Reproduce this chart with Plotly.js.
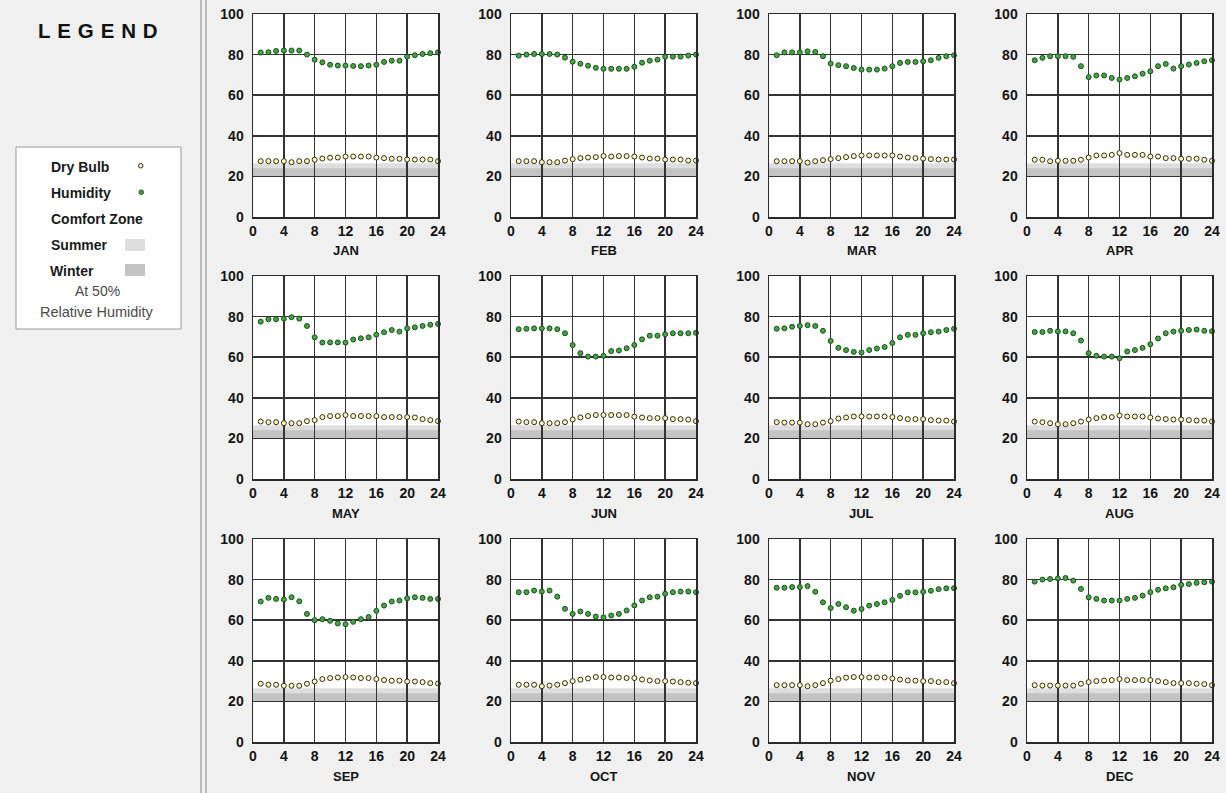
<!DOCTYPE html>
<html><head><meta charset="utf-8">
<script src="https://cdn.plot.ly/plotly-3.0.1.min.js"></script>
<style>html,body{margin:0;padding:0;background:#f0f0f0;} #chart{width:1226px;height:793px;}</style>
</head><body><div id="chart"></div>
<script>
const months = ['JAN','FEB','MAR','APR','MAY','JUN','JUL','AUG','SEP','OCT','NOV','DEC'];
const hours = [1,2,3,4,5,6,7,8,9,10,11,12,13,14,15,16,17,18,19,20,21,22,23,24];
const xTicks = [0,4,8,12,16,20,24];
const yTicks = [0,20,40,60,80,100];
const summerZone = [23, 26.5];
const winterZone = [20, 24];

const humidityJAN = [81,81.2,81.8,82,82,82,80,77.5,76.2,75,74.6,74.6,74.4,74.3,74.6,75,76.4,77,77,79,79.7,80.3,80.7,81.1];
const dryBulbJAN  = [27.5,27.5,27.5,27.5,27,27.5,27.5,28.2,28.8,29.2,29.3,29.8,29.8,29.8,29.8,29.3,29,28.7,28.7,28.3,28.3,28.3,28.3,27.5];
const humidityFEB = [79.5,80,80.3,80.3,80.3,80,78.5,76.5,75.5,74.5,73.5,73,73,73,73,74,76,77,77.5,79,79,79,79.5,80];
const dryBulbFEB  = [27.5,27.5,27.5,27,27,27,27.8,28.5,29,29.3,29.5,30,29.8,30,30,29.8,29.3,28.8,28.8,28.3,28.3,28.3,27.8,27.8];
const humidityMAR = [79.7,81.1,81.1,81.1,81.6,81.3,79.2,75.6,74.8,74.3,73.4,72.6,72.6,72.6,73.1,74.3,75.9,76.4,76.4,76.7,77.2,78.4,79.2,79.7];
const dryBulbMAR  = [27.5,27.5,27.5,27.5,26.8,27.5,28,28.5,29,29.5,30,30.3,30.3,30.3,30.3,30.3,29.8,29.3,29,28.8,28.5,28.3,28.3,28.3];
const humidityAPR = [77.2,78.4,79.2,79.2,79.2,78.9,74.3,68.9,69.7,69.7,68.5,67.7,68.5,69.3,70.6,71.8,74.3,75.4,73.1,74.3,75.1,75.9,76.7,77.2];
const dryBulbAPR  = [28.2,28.2,27.5,27.7,27.7,27.7,28.2,29.3,30.3,30.3,30.6,31.5,30.6,30.6,30.6,29.8,29.8,29,29,28.7,28.7,28.7,28.2,27.7];
const humidityMAY = [77.5,78.7,78.7,79,79.7,79,75.4,69.8,67.2,67.3,67.3,67.2,68.7,69.3,69.8,71.1,72.3,73.4,72.6,74.2,74.7,75.4,76,76.4];
const dryBulbMAY  = [28.3,28,28,27.5,27.5,27.5,28.5,29,30.5,31,31,31.5,31,31,31,31,30.5,30.5,30.5,30.5,30.3,29.5,29,28.5];
const humidityJUN = [73.8,74,74.2,74.2,74.2,73.8,71.8,66,62,60.3,60.3,60.7,63,63.3,64.4,66,68.8,70.6,70.6,71.3,71.8,71.8,71.8,72];
const dryBulbJUN  = [28.3,28,28,27.5,27.5,27.5,28,29.3,30.3,31,31.5,31.5,31.5,31.5,31.5,30.7,30.3,30,30,30,29.5,29.5,29.3,28.5];
const humidityJUL = [74,74.2,75,75.4,75.8,75.4,73,68,64.6,63.5,62.6,62.3,63.5,64.3,65,67,69.8,71,71,71.8,72.3,72.6,73.4,74];
const dryBulbJUL  = [28,27.8,27.8,27.8,27,27,27.8,28.5,29.8,30.3,30.8,30.8,30.8,30.8,30.8,30.5,30,29.5,29.5,29.5,29,28.8,28.8,28.3];
const humidityAUG = [72.4,72.4,73,72.7,72.7,71.8,68.2,62,60.7,60.3,60.3,59.5,62.8,63.5,64.6,66.4,69.2,71.8,72.6,73,73.4,73.6,73,72.8];
const dryBulbAUG  = [28.3,28,27.5,27,27,27.5,28.3,29.3,30,30.5,30.5,31.3,30.8,30.8,30.8,30.3,29.8,29.5,29.3,29.3,29,28.8,28.8,28.3];
const humiditySEP = [69.2,71,70.5,70.2,71.3,69.3,63.1,60,60.5,59.7,58.4,58,59.2,60.5,61.6,64.6,67.2,69.2,69.7,70.8,71.3,71,70.5,70.5];
const dryBulbSEP  = [28.7,28.2,28.2,27.7,27.7,27.7,28.7,29.8,31,31.5,31.8,32,31.8,31.5,31.5,31,30.5,30.2,30.2,29.8,29.8,29.5,29,28.8];
const humidityOCT = [73.8,73.8,74.6,74.1,74.6,71.6,65.6,63.1,64.3,63.1,61.8,61.4,62.3,63.1,64.8,67.3,69.7,71.3,71.6,73,73.8,74.1,74.1,73.8];
const dryBulbOCT  = [28.2,28.2,28.2,27.5,27.8,28.2,29,30,30.7,31.3,32,32,31.8,31.8,31.5,31.5,30.8,30.3,30,30,29.8,29.5,29.2,29];
const humidityNOV = [76,76,76.3,76.3,76.8,74,68.8,66,68,66.4,64.7,65.5,67.2,68,68.8,70,72,73.7,73.7,74,74.5,75.3,75.7,75.8];
const dryBulbNOV  = [28,28,28,28,27.5,28,29,30.2,31,31.7,32,32,31.8,31.8,31.8,31.3,30.8,30.3,30.2,30,30,29.5,29.5,29];
const humidityDEC = [79,80,80.3,80.6,80.8,79.5,75.4,71.3,70.5,69.7,69.7,69.7,70.5,71,72.1,73.8,75,75.7,76.2,77.4,77.8,78.4,78.7,79];
const dryBulbDEC  = [28,27.8,27.8,27.8,27.8,27.8,28.7,29.5,30,30.3,30.5,31,30.5,30.5,30.5,30.5,30,29.5,29,29,29,28.7,28.5,28];

const humiditySeries = [humidityJAN,humidityFEB,humidityMAR,humidityAPR,humidityMAY,humidityJUN,humidityJUL,humidityAUG,humiditySEP,humidityOCT,humidityNOV,humidityDEC];
const dryBulbSeries  = [dryBulbJAN,dryBulbFEB,dryBulbMAR,dryBulbAPR,dryBulbMAY,dryBulbJUN,dryBulbJUL,dryBulbAUG,dryBulbSEP,dryBulbOCT,dryBulbNOV,dryBulbDEC];

// ---- layout geometry (pixels) ----
const W = 1226, H = 793;
const colLeft = [253, 511, 769, 1027];
const rowTop = [14, 276, 539];
const plotW = 185, plotH = 203;
const px = x => x / W;
const py = y => 1 - y / H;

const FONT = 'Liberation Sans, Arial, sans-serif';
const dryColor = '#fbf8c4', dryLine = '#2e2e16';
const humColor = '#47a247', humLine = '#1a4f1a';
const summerColor = '#dedede', winterColor = '#c3c3c3';

const traces = [];
const layout = {
  width: W, height: H,
  margin: {l:0, r:0, t:0, b:0},
  paper_bgcolor: '#f0f0f0',
  plot_bgcolor: '#ffffff',
  showlegend: false,
  shapes: [], annotations: []
};

months.forEach((m, i) => {
  const r = Math.floor(i / 4), c = i % 4;
  const n = i + 1;
  const xa = 'xaxis' + (n === 1 ? '' : n), ya = 'yaxis' + (n === 1 ? '' : n);
  const xr = 'x' + (n === 1 ? '' : n), yr = 'y' + (n === 1 ? '' : n);
  const axCommon = {
    showgrid: true, gridcolor: '#333333', gridwidth: 1.5,
    showline: true, linecolor: '#2a2a2a', linewidth: 1.5, mirror: true,
    zeroline: false, ticks: '', fixedrange: true,
    tickfont: {family: FONT, size: 14, color: '#141414', weight: 'bold'}
  };
  layout[xa] = Object.assign({}, axCommon, {
    domain: [px(colLeft[c]), px(colLeft[c] + plotW)],
    range: [0, 24], tickmode: 'array', tickvals: xTicks, ticktext: xTicks.map(String),
    anchor: yr, ticklabelstandoff: 1
  });
  layout[ya] = Object.assign({}, axCommon, {
    domain: [py(rowTop[r] + plotH), py(rowTop[r])],
    range: [0, 100], tickmode: 'array', tickvals: yTicks, ticktext: yTicks.map(String),
    anchor: xr, ticklabelstandoff: 5
  });
  // comfort zone bands
  layout.shapes.push({type:'rect', xref: xr, yref: yr, x0: 0, x1: 24, y0: summerZone[0], y1: summerZone[1],
    fillcolor: summerColor, line: {width: 0}, layer: 'below'});
  layout.shapes.push({type:'rect', xref: xr, yref: yr, x0: 0, x1: 24, y0: winterZone[0], y1: winterZone[1],
    fillcolor: winterColor, line: {width: 0}, layer: 'below'});
  // month label
  layout.annotations.push({xref: xr + ' domain', yref: yr + ' domain', x: 0.5, y: 0, yshift: -34,
    xanchor: 'center', yanchor: 'middle', showarrow: false, text: m,
    font: {family: FONT, size: 13, color: '#141414', weight: 'bold'}});
  traces.push({type:'scatter', mode:'markers', x: hours, y: humiditySeries[i], xaxis: xr, yaxis: yr,
    name: 'Humidity', cliponaxis: false,
    marker: {symbol:'circle', size: 5, color: humColor, line: {color: humLine, width: 1}}});
  traces.push({type:'scatter', mode:'markers', x: hours, y: dryBulbSeries[i], xaxis: xr, yaxis: yr,
    name: 'Dry Bulb', cliponaxis: false,
    marker: {symbol:'circle', size: 5, color: dryColor, line: {color: dryLine, width: 1}}});
});

// ---- separator (split-pane divider) ----
[201, 206].forEach(x => layout.shapes.push({type:'line', xref:'paper', yref:'paper',
  x0: px(x), x1: px(x), y0: 0, y1: 1, line: {color:'#a8a8a8', width: 1.5}}));

// ---- legend panel ----
layout.annotations.push({xref:'paper', yref:'paper', x: px(98), y: py(31), xanchor:'center', yanchor:'middle',
  showarrow:false, text:'L\u2004E\u2004G\u2004E\u2004N\u2004D',
  font:{family: FONT, size: 20.5, color:'#111', weight:'bold'}});
layout.shapes.push({type:'rect', xref:'paper', yref:'paper', x0: px(16), x1: px(181), y0: py(329), y1: py(147),
  fillcolor:'#ffffff', line:{color:'#9a9a9a', width:1}});
const legendRows = [
  {text:'Dry Bulb', y:167, x:49},
  {text:'Humidity', y:193, x:49},
  {text:'Comfort Zone', y:219, x:49},
  {text:'Summer', y:245, x:49},
  {text:'Winter', y:271, x:48}
];
legendRows.forEach(rw => layout.annotations.push({xref:'paper', yref:'paper', x: px(rw.x), y: py(rw.y),
  xanchor:'left', yanchor:'middle', showarrow:false, text: rw.text,
  font:{family: FONT, size: 14, color:'#1a1a1a', weight:'bold'}}));
layout.annotations.push({xref:'paper', yref:'paper', x: px(97), y: py(291), xanchor:'center', yanchor:'middle',
  showarrow:false, text:'At 50%', font:{family: FONT, size: 14, color:'#4a4a4a'}});
layout.annotations.push({xref:'paper', yref:'paper', x: px(97), y: py(312), xanchor:'center', yanchor:'middle',
  showarrow:false, text:'Relative Humidity', font:{family: FONT, size: 14.5, color:'#4a4a4a'}});
// legend marker symbols
layout.shapes.push({type:'circle', xref:'paper', yref:'paper', x0: px(138.5), x1: px(143), y0: py(168), y1: py(163.5),
  fillcolor: dryColor, line:{color: dryLine, width:1}});
layout.shapes.push({type:'circle', xref:'paper', yref:'paper', x0: px(139), x1: px(143.5), y0: py(194.5), y1: py(190),
  fillcolor: humColor, line:{color: humLine, width:1}});
layout.shapes.push({type:'rect', xref:'paper', yref:'paper', x0: px(125), x1: px(145), y0: py(251), y1: py(239),
  fillcolor: summerColor, line:{width:0}});
layout.shapes.push({type:'rect', xref:'paper', yref:'paper', x0: px(125), x1: px(145), y0: py(276), y1: py(264),
  fillcolor: winterColor, line:{width:0}});

Plotly.newPlot('chart', traces, layout, {displayModeBar: false, staticPlot: true});
</script>
</body></html>
